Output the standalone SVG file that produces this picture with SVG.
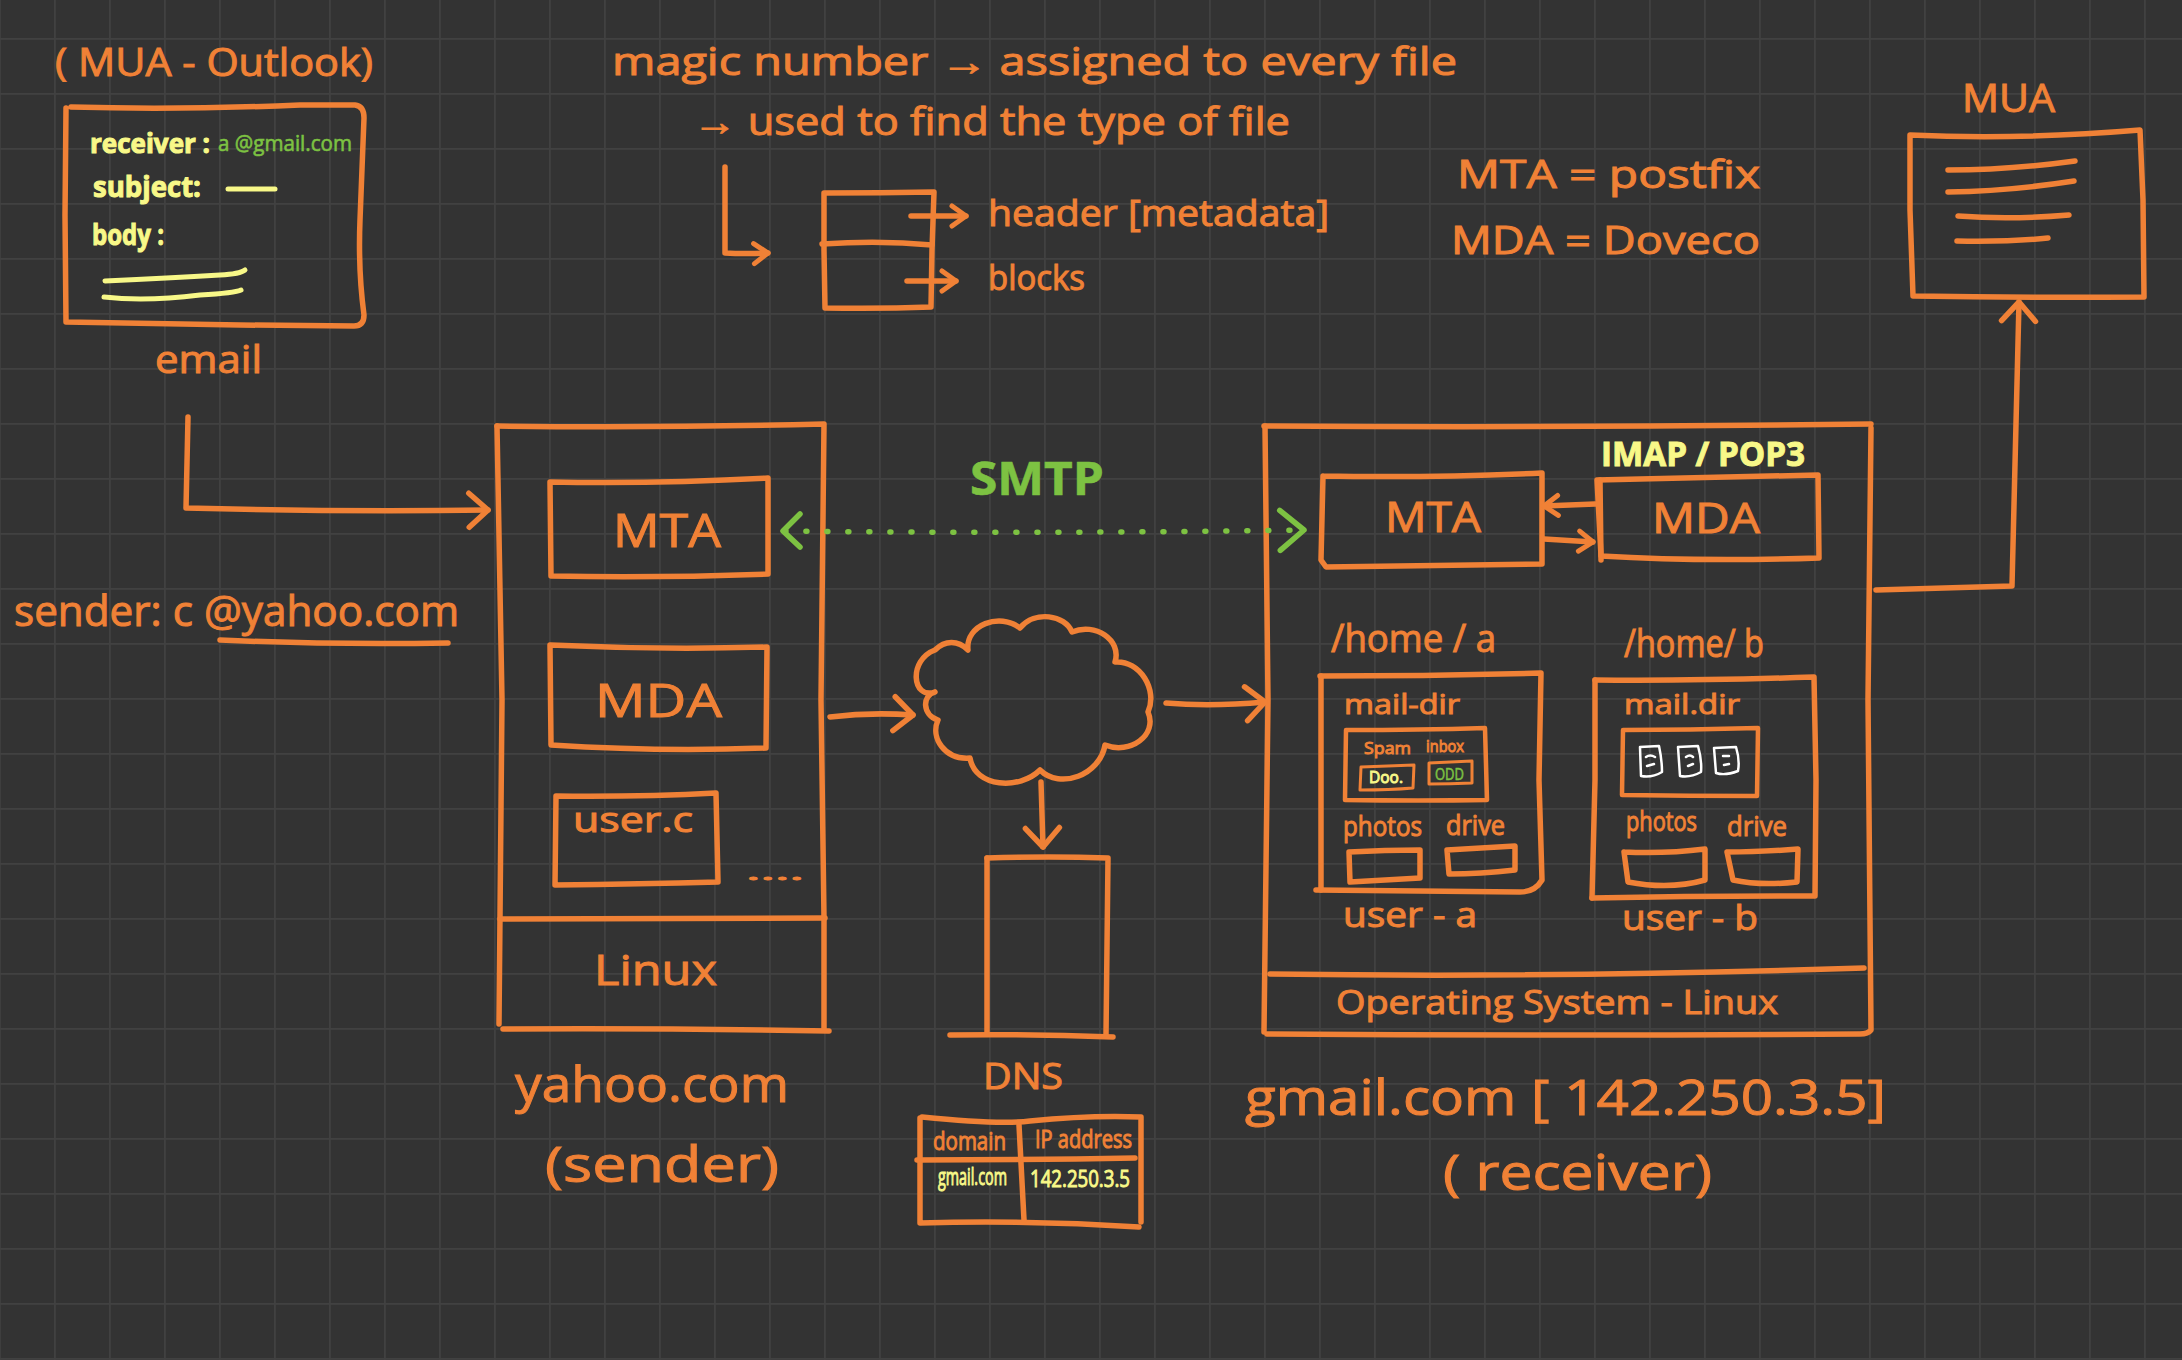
<svg xmlns="http://www.w3.org/2000/svg" width="2182" height="1360" viewBox="0 0 2182 1360">
<style>
.s{fill:none;stroke:#F08136;stroke-width:5.5;stroke-linecap:round;stroke-linejoin:round}
.m{stroke-width:4.5}
.n{stroke-width:3}
.y{fill:none;stroke:#F8F888;stroke-width:5;stroke-linecap:round}
.w{fill:none;stroke:#fff;stroke-width:2.5;stroke-linecap:round;stroke-linejoin:round}
.g{fill:none;stroke:#7DC242;stroke-width:5.5;stroke-linecap:round;stroke-linejoin:round}
text{font-family:"Open Sans","Liberation Sans",sans-serif}
.to{fill:#F08136;stroke:#F08136;stroke-width:1}
.ty{fill:#F8F888;stroke:#F8F888;stroke-width:1}
.tg{fill:#7DC242;stroke:#7DC242;stroke-width:.6}
</style>
<defs>
<pattern id="grid" x="54" y="38" width="55" height="55" patternUnits="userSpaceOnUse">
<path d="M0 0H55M0 0V55" fill="none" stroke="#414141" stroke-width="3.5"/>
</pattern>
<marker id="h" markerUnits="userSpaceOnUse" markerWidth="36" markerHeight="44" refX="24" refY="22" orient="auto">
<path d="M5 5L24 22L5 39" fill="none" stroke="#F08136" stroke-width="5.5" stroke-linecap="round" stroke-linejoin="round"/>
</marker>
<marker id="hs" markerUnits="userSpaceOnUse" markerWidth="30" markerHeight="30" refX="20" refY="15" orient="auto">
<path d="M6 5L20 15L6 25" fill="none" stroke="#F08136" stroke-width="5" stroke-linecap="round" stroke-linejoin="round"/>
</marker>
<marker id="hg" markerUnits="userSpaceOnUse" markerWidth="40" markerHeight="50" refX="30" refY="25" orient="auto">
<path d="M6 5L30 25L6 45" fill="none" stroke="#7DC242" stroke-width="5.5" stroke-linecap="round" stroke-linejoin="round"/>
</marker>
</defs>
<rect width="2182" height="1360" fill="#333333"/>
<rect width="2182" height="1360" fill="url(#grid)"/>

<g id="email-box">
<path class="s" d="M71 107Q180 110 300 105L355 105Q364 106 364 118L360 220Q358 270 364 315Q364 326 354 326L240 325L66 322L65 215L66 108"/>
<text class="to" x="55" y="76" font-size="38" textLength="318" lengthAdjust="spacingAndGlyphs">( MUA - Outlook)</text>
<text class="ty" x="90" y="153" font-size="26" font-weight="700" textLength="120" lengthAdjust="spacingAndGlyphs">receiver :</text>
<text class="tg" x="218" y="151" font-size="22" textLength="134" lengthAdjust="spacingAndGlyphs">a @gmail.com</text>
<text class="ty" x="93" y="197" font-size="29" font-weight="700" textLength="108" lengthAdjust="spacingAndGlyphs">subject:</text>
<path class="y" d="M228 189H275"/>
<text class="ty" x="92" y="245" font-size="29" font-weight="700" textLength="72" lengthAdjust="spacingAndGlyphs">body :</text>
<path class="y" d="M105 281Q170 278 220 275Q240 274 245 270"/>
<path class="y" d="M104 297Q145 302 200 295Q235 293 241 290"/>
<text class="to" x="155" y="373" font-size="38" textLength="107" lengthAdjust="spacingAndGlyphs">email</text>
</g>

<g id="magic-number">
<text class="to" x="612" y="75" font-size="38" textLength="845" lengthAdjust="spacingAndGlyphs">magic number → assigned to every file</text>
<text class="to" x="693" y="135" font-size="38" textLength="597" lengthAdjust="spacingAndGlyphs">→ used to find the type of file</text>
<path class="s" d="M824 193Q880 193 934 192L932 250L931 307Q880 309 825 308L824 250L824 193"/>
<path class="s" d="M822 244Q880 240 932 245"/>
<text class="to" x="988" y="226" font-size="36" textLength="341" lengthAdjust="spacingAndGlyphs">header [metadata]</text>
<text class="to" x="988" y="290" font-size="34" textLength="97" lengthAdjust="spacingAndGlyphs">blocks</text>
</g>

<g id="agent-notes">
<text class="to" x="1457" y="188" font-size="38" textLength="303" lengthAdjust="spacingAndGlyphs">MTA = postfix</text>
<text class="to" x="1451" y="254" font-size="38" textLength="309" lengthAdjust="spacingAndGlyphs">MDA =  Doveco</text>
</g>

<g id="mua-receiver">
<text class="to" x="1962" y="112" font-size="38" textLength="93" lengthAdjust="spacingAndGlyphs">MUA</text>
<path class="s" d="M1910 135Q2020 140 2140 130L2143 200L2144 297Q2030 298 1913 296L1910 210L1910 135"/>
<path class="s" d="M1948 170Q2010 170 2075 161"/>
<path class="s" d="M1948 192Q2010 191 2074 181"/>
<path class="s" d="M1958 216Q2010 220 2069 215"/>
<path class="s" d="M1957 241Q2010 242 2048 238"/>
</g>

<g id="yahoo">
<path class="s" d="M497 426Q660 428 824 424L821 700L824 918L824 1030"/>
<path class="s" d="M497 426L502 700L499 1024"/>
<path class="s" d="M503 1029Q660 1028 829 1031"/>
<path class="s" d="M500 919Q660 918 825 918"/>
<path class="s" d="M550 482Q660 484 768 478L768 574Q660 578 551 576L550 482"/>
<text class="to" x="613" y="547" font-size="46" textLength="108" lengthAdjust="spacingAndGlyphs">MTA</text>
<path class="s" d="M550 645Q660 650 767 647L766 748Q660 752 551 745L550 645"/>
<text class="to" x="595" y="717" font-size="46" textLength="127" lengthAdjust="spacingAndGlyphs">MDA</text>
<path class="s" d="M556 796Q640 797 716 793L718 882Q640 884 555 885L556 796"/>
<text class="to" x="573" y="832" font-size="34" textLength="120" lengthAdjust="spacingAndGlyphs">user.c</text>
<text class="to" x="746" y="880" font-size="24" textLength="58" lengthAdjust="spacingAndGlyphs">....</text>
<text class="to" x="594" y="985" font-size="42" textLength="123" lengthAdjust="spacingAndGlyphs">Linux</text>
<text class="to" x="515" y="1102" font-size="50" textLength="274" lengthAdjust="spacingAndGlyphs">yahoo.com</text>
<text class="to" x="545" y="1182" font-size="50" textLength="234" lengthAdjust="spacingAndGlyphs">(sender)</text>
</g>

<g id="sender-label">
<text class="to" x="14" y="626" font-size="42" textLength="445" lengthAdjust="spacingAndGlyphs">sender: c @yahoo.com</text>
<path class="s" d="M220 640Q330 645 448 643"/>
</g>

<g id="smtp-label">
<text class="tg" x="970" y="495" font-size="46" font-weight="700" textLength="134" lengthAdjust="spacingAndGlyphs">SMTP</text>
</g>

<g id="internet-cloud">
<path class="s" d="M935 692C912 700 908 660 935 650C945 640 958 640 968 650C965 625 1000 612 1020 628C1035 610 1065 615 1072 632C1095 622 1122 640 1115 662C1140 660 1158 690 1148 712C1158 735 1130 755 1105 745C1100 775 1060 790 1040 770C1020 790 975 788 970 758C945 760 930 738 938 720C922 715 922 695 935 692"/>
</g>

<g id="dns-server">
<path class="s" d="M987 858Q1050 856 1108 858L1106 1035"/>
<path class="s" d="M987 858L987 1034"/>
<path class="s" d="M950 1035Q1030 1034 1113 1037"/>
<text class="to" x="983" y="1089" font-size="36" textLength="80" lengthAdjust="spacingAndGlyphs">DNS</text>
</g>

<g id="dns-table">
<path class="s" d="M922 1117Q1000 1125 1030 1121Q1090 1115 1141 1117L1141 1222"/>
<path class="s" d="M920 1118L920 1223Q1030 1220 1139 1227"/>
<path class="s" d="M917 1160Q1030 1160 1135 1158"/>
<path class="s" d="M1019 1125L1024 1220"/>
<text class="to" x="933" y="1150" font-size="25" textLength="73" lengthAdjust="spacingAndGlyphs">domain</text>
<text class="to" x="1035" y="1148" font-size="25" textLength="97" lengthAdjust="spacingAndGlyphs">IP address</text>
<text class="ty" x="938" y="1185" font-size="24" textLength="69" lengthAdjust="spacingAndGlyphs">gmail.com</text>
<text class="ty" x="1030" y="1187" font-size="24" textLength="100" lengthAdjust="spacingAndGlyphs">142.250.3.5</text>
</g>

<g id="gmail">
<path class="s" d="M1264 426Q1560 428 1871 424"/>
<path class="s" d="M1265 426L1268 700L1264 1032"/>
<path class="s" d="M1871 428L1868 700L1871 1030Q1868 1034 1860 1034Q1560 1036 1267 1034"/>
<path class="s" d="M1270 974Q1560 978 1864 968"/>
<text class="ty" x="1601" y="466" font-size="34" font-weight="700" textLength="204" lengthAdjust="spacingAndGlyphs">IMAP / POP3</text>
<path class="s" d="M1323 476Q1430 478 1542 473L1542 564Q1430 566 1326 567L1321 560L1323 476"/>
<text class="to" x="1385" y="532" font-size="42" textLength="96" lengthAdjust="spacingAndGlyphs">MTA</text>
<path class="s" d="M1597 480Q1700 478 1818 475L1819 558Q1700 562 1601 556L1597 480"/>
<path class="s" d="M1600 480L1601 560"/>
<text class="to" x="1652" y="533" font-size="42" textLength="108" lengthAdjust="spacingAndGlyphs">MDA</text>
<text class="to" x="1331" y="652" font-size="38" textLength="165" lengthAdjust="spacingAndGlyphs">/home / a</text>
<text class="to" x="1624" y="657" font-size="38" textLength="140" lengthAdjust="spacingAndGlyphs">/home/ b</text>
<text class="to" x="1336" y="1014" font-size="33" textLength="442" lengthAdjust="spacingAndGlyphs">Operating System - Linux</text>
<text class="to" x="1245" y="1115" font-size="50" textLength="641" lengthAdjust="spacingAndGlyphs">gmail.com [ 142.250.3.5]</text>
<text class="to" x="1443" y="1190" font-size="50" textLength="269" lengthAdjust="spacingAndGlyphs">( receiver)</text>
</g>

<g id="user-a">
<path class="s" d="M1320 676Q1430 676 1541 673L1539 780L1542 880Q1535 892 1520 892L1316 890"/>
<path class="s" d="M1321 676L1321 890"/>
<text class="to" x="1344" y="714" font-size="27" textLength="116" lengthAdjust="spacingAndGlyphs">mail-dir</text>
<path class="s m" d="M1346 730Q1420 730 1485 728L1487 800Q1420 801 1345 800L1346 730"/>
<text class="to" x="1364" y="754" font-size="17" stroke-width=".3" textLength="47" lengthAdjust="spacingAndGlyphs">Spam</text>
<text class="to" x="1426" y="752" font-size="17" stroke-width=".3" textLength="38" lengthAdjust="spacingAndGlyphs">inbox</text>
<path class="s n" d="M1361 767Q1390 766 1414 765L1413 788Q1390 790 1360 790L1361 767"/>
<text class="ty" x="1369" y="783" font-size="17" stroke-width=".4" textLength="34" lengthAdjust="spacingAndGlyphs">Doo.</text>
<path class="s n" d="M1429 763Q1450 762 1472 761L1472 783Q1450 784 1429 784L1429 763"/>
<text class="tg" x="1435" y="780" font-size="17" stroke-width=".4" textLength="29" lengthAdjust="spacingAndGlyphs">ODD</text>
<text class="to" x="1343" y="836" font-size="27" textLength="79" lengthAdjust="spacingAndGlyphs">photos</text>
<text class="to" x="1446" y="835" font-size="27" textLength="59" lengthAdjust="spacingAndGlyphs">drive</text>
<path class="s" d="M1349 852Q1385 850 1420 850L1420 878Q1385 880 1350 882L1349 852"/>
<path class="s" d="M1447 850Q1480 848 1515 846L1515 870Q1480 874 1449 874L1447 850"/>
<text class="to" x="1343" y="927" font-size="34" textLength="134" lengthAdjust="spacingAndGlyphs">user - a</text>
</g>

<g id="user-b">
<path class="s" d="M1595 680Q1700 681 1814 677L1816 780L1815 896Q1700 896 1592 898"/>
<path class="s" d="M1595 680L1595 780L1592 898"/>
<text class="to" x="1624" y="714" font-size="27" textLength="116" lengthAdjust="spacingAndGlyphs">mail.dir</text>
<path class="s m" d="M1623 730Q1690 730 1758 728L1757 796Q1690 796 1622 795L1623 730"/>
<path class="w" d="M1640 747L1659 746Q1662 760 1662 772Q1652 778 1641 776L1640 747M1646 757Q1650 754 1655 757M1647 766L1654 764"/>
<path class="w" d="M1678 747L1698 746Q1702 760 1701 772Q1690 778 1680 776L1678 747M1686 757Q1690 754 1693 757M1688 766L1693 764"/>
<path class="w" d="M1714 748L1736 747Q1740 760 1738 771Q1725 776 1716 773L1714 748M1723 756L1729 756M1724 765L1729 764"/>
<text class="to" x="1626" y="831" font-size="27" textLength="71" lengthAdjust="spacingAndGlyphs">photos</text>
<text class="to" x="1727" y="836" font-size="27" textLength="60" lengthAdjust="spacingAndGlyphs">drive</text>
<path class="s" d="M1624 852Q1665 854 1705 849L1705 880Q1670 890 1628 882L1624 852"/>
<path class="s" d="M1727 852Q1760 852 1798 849L1797 882Q1760 886 1733 880L1727 852"/>
<text class="to" x="1622" y="930" font-size="34" textLength="136" lengthAdjust="spacingAndGlyphs">user - b</text>
</g>

<g id="connectors">
<path class="s" d="M188 417L186 508Q340 512 488 510" marker-end="url(#h)"/>
<path class="s" d="M725 167L725 253Q745 254 768 253" marker-end="url(#hs)"/>
<path class="s" d="M911 216L966 216" marker-end="url(#hs)"/>
<path class="s" d="M907 281L956 281" marker-end="url(#hs)"/>
<path class="s" d="M1876 590L2012 586L2019 302" marker-end="url(#h)"/>
<path class="s" d="M830 717Q870 712 913 715" marker-end="url(#h)"/>
<path class="s" d="M1166 703Q1210 707 1265 702" marker-end="url(#h)"/>
<path class="s" d="M1041 782L1043 847" marker-end="url(#h)"/>
<path class="s" d="M1595 504L1544 506" marker-end="url(#hs)"/>
<path class="s" d="M1544 539L1593 542" marker-end="url(#hs)"/>
<path class="g" stroke-dasharray="1 20" d="M785 531Q1040 534 1304 530" marker-end="url(#hg)"/>
<path class="g" d="M800 514L783 531L800 547"/>
</g>
</svg>
